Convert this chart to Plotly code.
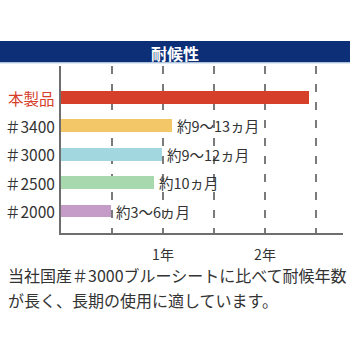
import plotly.graph_objects as go

# ---- data ----
categories = ["本製品", "＃3400", "＃3000", "＃2500", "＃2000"]
months = [29.2, 13.1, 11.9, 10.9, 5.9]
value_labels = ["", "約9～13ヵ月", "約9～12ヵ月", "約10ヵ月", "約3～6ヵ月"]
bar_colors = ["#d6402b", "#f3c668", "#a2d7df", "#a8d9ae", "#c59cc8"]
label_colors = ["#d6402b", "#333333", "#333333", "#333333", "#333333"]
tick_vals = [6, 12, 18, 24, 30]
tick_text = ["", "1年", "", "2年", ""]
title_text = "耐候性"
caption_lines = ["当社国産＃3000ブルーシートに比べて耐候年数",
                 "が長く、長期の使用に適しています。"]

FONT = "Noto Sans CJK JP"
W, H = 350, 350
ML, MR, MT, MB = 61, 7, 66, 117
PW = W - ML - MR
PH = H - MT - MB

n = len(categories)
ypos = list(range(n - 1, -1, -1))

fig = go.Figure()
fig.add_trace(go.Bar(
    x=months, y=ypos, orientation="h", width=0.45,
    marker=dict(color=bar_colors, line=dict(width=0)),
    hoverinfo="skip", showlegend=False,
))

annotations = []
# left category labels
for c, y, col in zip(categories, ypos, label_colors):
    annotations.append(dict(
        x=0, xref="paper", y=y, yref="y", text=c, showarrow=False,
        xanchor="right", yanchor="middle", xshift=-4,
        font=dict(family=FONT, size=15.5, color=col)))
# value labels
for v, y, t in zip(months, ypos, value_labels):
    if t:
        annotations.append(dict(
            x=v, xref="x", y=y, yref="y", text=t, showarrow=False,
            xanchor="left", yanchor="middle", xshift=3,
            font=dict(family=FONT, size=14.5, color="#333333")))


def px_to_paper_x(px):
    return (px - ML) / PW


def px_to_paper_y(py):
    return (H - MB - py) / PH


# title banner
shapes = [
    dict(type="rect", xref="paper", yref="paper",
         x0=px_to_paper_x(0), x1=px_to_paper_x(W),
         y0=px_to_paper_y(62.5), y1=px_to_paper_y(41),
         fillcolor="#0c2f78", line=dict(width=0), layer="above"),
    dict(type="rect", xref="paper", yref="paper",
         x0=px_to_paper_x(0), x1=px_to_paper_x(W),
         y0=px_to_paper_y(64), y1=px_to_paper_y(62.5),
         fillcolor="#dceaf6", line=dict(width=0), layer="above"),
]
annotations.append(dict(
    x=px_to_paper_x(175), xref="paper", y=px_to_paper_y(52.5), yref="paper",
    text="<b>" + title_text + "</b>", showarrow=False,
    xanchor="center", yanchor="middle",
    font=dict(family=FONT, size=16, color="white")))

# caption
for i, line in enumerate(caption_lines):
    annotations.append(dict(
        x=px_to_paper_x(6), xref="paper", y=px_to_paper_y(275 + 25 * i), yref="paper",
        text=line, showarrow=False, xanchor="left", yanchor="middle",
        font=dict(family=FONT, size=16, color="#333333")))

fig.update_layout(
    width=W, height=H,
    margin=dict(l=ML, r=MR, t=MT, b=MB, pad=0),
    paper_bgcolor="white", plot_bgcolor="white",
    bargap=0, showlegend=False,
    annotations=annotations, shapes=shapes,
    xaxis=dict(range=[0, PW / 8.5], tickvals=tick_vals, ticktext=tick_text,
               showgrid=True, gridcolor="#7a7a7a", gridwidth=2, griddash="8px,10px",
               showline=True, linecolor="#6e6e6e", linewidth=2, zeroline=False,
               ticks="", ticklabelstandoff=8,
               tickfont=dict(family=FONT, size=14, color="#333333"), fixedrange=True),
    yaxis=dict(range=[-0.775, n - 1 + 1.11], showgrid=False, zeroline=False,
               showticklabels=False, ticks="",
               showline=True, linecolor="#6e6e6e", linewidth=2, fixedrange=True),
)

fig.write_html("out.html", config={"displayModeBar": False})
